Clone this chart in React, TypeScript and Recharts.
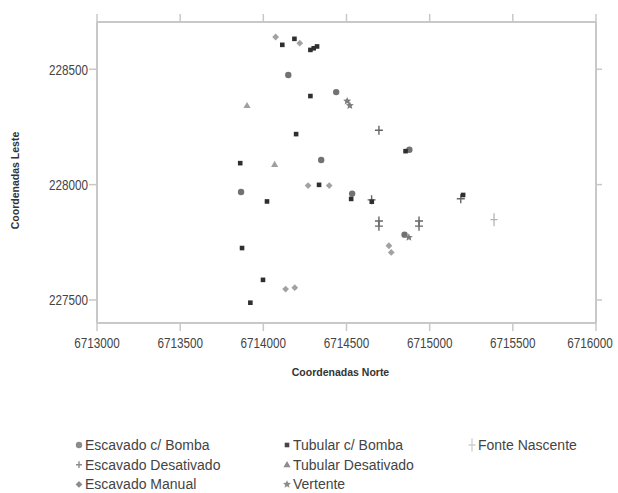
import React from 'react'
import { ScatterChart, Scatter, XAxis, YAxis, Legend } from 'recharts'

// axis ticks
const xTicks = [6713000, 6713500, 6714000, 6714500, 6715000, 6715500, 6716000]
const yTicks = [227500, 228000, 228500]

// points (Norte, Leste)
const escavadoBomba = [
  { x: 6714150, y: 228475 },
  { x: 6714348, y: 228107 },
  { x: 6713866, y: 227968 },
  { x: 6714438, y: 228401 },
  { x: 6714534, y: 227961 },
  { x: 6714878, y: 228151 },
  { x: 6714849, y: 227783 },
]

const escavadoDesativado = [
  { x: 6714695, y: 228236 },
  { x: 6714695, y: 227842 },
  { x: 6714695, y: 227820 },
  { x: 6714936, y: 227842 },
  { x: 6714936, y: 227820 },
  { x: 6715187, y: 227939 },
  { x: 6714651, y: 227934 },
]

const escavadoManual = [
  { x: 6714074, y: 228640 },
  { x: 6714219, y: 228613 },
  { x: 6714269, y: 227996 },
  { x: 6714396, y: 227996 },
  { x: 6714134, y: 227547 },
  { x: 6714189, y: 227553 },
  { x: 6714755, y: 227735 },
  { x: 6714769, y: 227706 },
]

const tubularBomba = [
  { x: 6714114, y: 228606 },
  { x: 6714187, y: 228632 },
  { x: 6714283, y: 228584 },
  { x: 6714303, y: 228591 },
  { x: 6714323, y: 228599 },
  { x: 6714283, y: 228384 },
  { x: 6714197, y: 228219 },
  { x: 6713861, y: 228093 },
  { x: 6714335, y: 227999 },
  { x: 6714022, y: 227927 },
  { x: 6714528, y: 227938 },
  { x: 6713872, y: 227725 },
  { x: 6713998, y: 227587 },
  { x: 6713922, y: 227488 },
  { x: 6714855, y: 228145 },
  { x: 6714652, y: 227926 },
  { x: 6715201, y: 227955 },
]

const tubularDesativado = [
  { x: 6713902, y: 228343 },
  { x: 6714068, y: 228088 },
]

const vertente = [
  { x: 6714504, y: 228362 },
  { x: 6714520, y: 228343 },
  { x: 6714875, y: 227771 },
]

const fonteNascente = [
  { x: 6715387, y: 227848 },
]

type Kind = 'circle' | 'plus' | 'diamond' | 'square' | 'triangle' | 'star' | 'fonte'

const series: { name: string; data: { x: number; y: number }[]; kind: Kind; color: string; col: number; row: number }[] = [
  { name: 'Escavado Manual', data: escavadoManual, kind: 'diamond', color: '#a2a2a2', col: 0, row: 2 },
  { name: 'Tubular Desativado', data: tubularDesativado, kind: 'triangle', color: '#a0a0a0', col: 1, row: 1 },
  { name: 'Fonte Nascente', data: fonteNascente, kind: 'fonte', color: '#b4b4b4', col: 2, row: 0 },
  { name: 'Escavado c/ Bomba', data: escavadoBomba, kind: 'circle', color: '#727272', col: 0, row: 0 },
  { name: 'Escavado Desativado', data: escavadoDesativado, kind: 'plus', color: '#666666', col: 0, row: 1 },
  { name: 'Vertente', data: vertente, kind: 'star', color: '#7c7c7c', col: 1, row: 2 },
  { name: 'Tubular c/ Bomba', data: tubularBomba, kind: 'square', color: '#2f2f2f', col: 1, row: 0 },
]

const X_DOMAIN = [6713000, 6716000]
const Y_DOMAIN = [227400, 228705]

const FONT = '"Liberation Sans", Arial, Helvetica, sans-serif'
const AXIS_GRAY = '#c8c8c8'

function starPoints(cx: number, cy: number, ro: number, ri: number) {
  const pts: string[] = []
  for (let i = 0; i < 10; i++) {
    const r = i % 2 === 0 ? ro : ri
    const a = -Math.PI / 2 + (i * Math.PI) / 5
    pts.push(`${cx + r * Math.cos(a)},${cy + r * Math.sin(a)}`)
  }
  return pts.join(' ')
}

function marker(kind: Kind, cx: number, cy: number, color: string, s = 1) {
  switch (kind) {
    case 'circle':
      return <circle cx={cx} cy={cy} r={3.2 * s} fill={color} />
    case 'square':
      return <rect x={cx - 2.3 * s} y={cy - 2.3 * s} width={4.6 * s} height={4.6 * s} fill={color} />
    case 'diamond':
      return (
        <polygon
          points={`${cx},${cy - 3.4 * s} ${cx + 3.4 * s},${cy} ${cx},${cy + 3.4 * s} ${cx - 3.4 * s},${cy}`}
          fill={color}
        />
      )
    case 'triangle':
      return (
        <polygon
          points={`${cx},${cy - 3.6 * s} ${cx + 3.6 * s},${cy + 2.6 * s} ${cx - 3.6 * s},${cy + 2.6 * s}`}
          fill={color}
        />
      )
    case 'plus':
      return (
        <path
          d={`M${cx - 4 * s},${cy}H${cx + 4 * s}M${cx},${cy - 4.5 * s}V${cy + 4.5 * s}`}
          stroke={color}
          strokeWidth={1.4}
          fill="none"
        />
      )
    case 'star':
      return <polygon points={starPoints(cx, cy, 4.2 * s, 1.9 * s)} fill={color} />
    case 'fonte':
      return (
        <path
          d={`M${cx - 3.5 * s},${cy}H${cx + 3.5 * s}M${cx},${cy - 6.5 * s}V${cy + 6.5 * s}`}
          stroke={color}
          strokeWidth={1.3}
          fill="none"
        />
      )
  }
}

const XTick = ({ x, y, payload }: any) => (
  <g transform={`translate(${x},${y})`}>
    <text transform="scale(0.78,1)" textAnchor="middle" dy={15} fontSize={15} fill="#444" fontFamily={FONT}>
      {payload.value}
    </text>
  </g>
)

const YTick = ({ x, y, payload }: any) => (
  <g transform={`translate(${x},${y})`}>
    <text transform="scale(0.78,1)" textAnchor="end" dy={5.4} fontSize={15} fill="#444" fontFamily={FONT}>
      {payload.value}
    </text>
  </g>
)

// legend columns: marker x
const legendCols = [79, 287, 472]

function LegendBox() {
  return (
    <svg width={618} height={57} style={{ display: 'block' }}>
      {series.map((s) => {
        const cy = 9 + s.row * 19.7
        const mx = legendCols[s.col]
        const legendColor = s.kind === 'fonte' ? '#cfcfcf' : s.kind === 'square' ? '#454545' : '#8c8c8c'
        return (
          <g key={s.name}>
            {marker(s.kind, mx, cy, legendColor, s.kind === 'plus' ? 0.75 : 1)}
            <text x={mx + 6} y={cy + 4.8} fontSize={14} fill="#444" fontFamily={FONT}>
              {s.name}
            </text>
          </g>
        )
      })}
    </svg>
  )
}

export default function App() {
  return (
    <div style={{ position: 'absolute', left: 0, top: 0, width: 618, height: 493, background: '#fff' }}>
      <ScatterChart width={618} height={493} margin={{ top: 21, right: 21, left: 0, bottom: 0 }}>
        <XAxis
          type="number"
          dataKey="x"
          domain={X_DOMAIN}
          ticks={xTicks}
          allowDataOverflow
          height={170}
          tickSize={8}
          tickMargin={2}
          axisLine={{ stroke: AXIS_GRAY, strokeWidth: 2 }}
          tickLine={{ stroke: AXIS_GRAY, strokeWidth: 1.5 }}
          tick={<XTick />}
          label={({ viewBox }: any) => (
            <text
              x={viewBox.x + viewBox.width / 2 - 6}
              y={viewBox.y + 53}
              textAnchor="middle"
              fontSize={10.5}
              fontWeight="bold"
              fill="#333"
              fontFamily={FONT}
            >
              Coordenadas Norte
            </text>
          )}
        />
        <XAxis
          xAxisId="top"
          orientation="top"
          type="number"
          dataKey="x"
          domain={X_DOMAIN}
          ticks={xTicks}
          allowDataOverflow
          height={1}
          tickSize={8}
          axisLine={{ stroke: AXIS_GRAY, strokeWidth: 2 }}
          tickLine={{ stroke: AXIS_GRAY, strokeWidth: 1.5 }}
          tickFormatter={() => ''}
        />
        <YAxis
          type="number"
          dataKey="y"
          domain={Y_DOMAIN}
          ticks={yTicks}
          allowDataOverflow
          width={97}
          tickSize={8}
          tickMargin={1}
          axisLine={{ stroke: AXIS_GRAY, strokeWidth: 2 }}
          tickLine={{ stroke: AXIS_GRAY, strokeWidth: 1.5 }}
          tick={<YTick />}
          label={({ viewBox }: any) => {
            const cx = viewBox.x + 15
            const cy = viewBox.y + viewBox.height / 2 + 8
            return (
              <text
                x={cx}
                y={cy}
                transform={`rotate(-90 ${cx} ${cy})`}
                textAnchor="middle"
                dominantBaseline="central"
                fontSize={10.5}
                fontWeight="bold"
                fill="#333"
                fontFamily={FONT}
              >
                Coordenadas Leste
              </text>
            )
          }}
        />
        <YAxis
          yAxisId="right"
          orientation="right"
          type="number"
          dataKey="y"
          domain={Y_DOMAIN}
          ticks={yTicks}
          allowDataOverflow
          width={1}
          tickSize={6}
          axisLine={{ stroke: AXIS_GRAY, strokeWidth: 2 }}
          tickLine={{ stroke: AXIS_GRAY, strokeWidth: 1.5 }}
          tickFormatter={() => ''}
        />
        {series.map((s) => (
          <Scatter
            key={s.name}
            name={s.name}
            data={s.data}
            // the lone Fonte Nascente point rides on the mirrored (same-domain) axes so they get drawn
            xAxisId={s.kind === 'fonte' ? 'top' : 0}
            yAxisId={s.kind === 'fonte' ? 'right' : 0}
            isAnimationActive={false}
            shape={(p: any) => marker(s.kind, p.cx, p.cy, s.color)}
          />
        ))}
        <Legend
          layout="horizontal"
          verticalAlign="middle"
          align="center"
          wrapperStyle={{ position: 'absolute', left: 0, top: 436, width: 618, height: 57 }}
          content={() => <LegendBox />}
        />
      </ScatterChart>
    </div>
  )
}
